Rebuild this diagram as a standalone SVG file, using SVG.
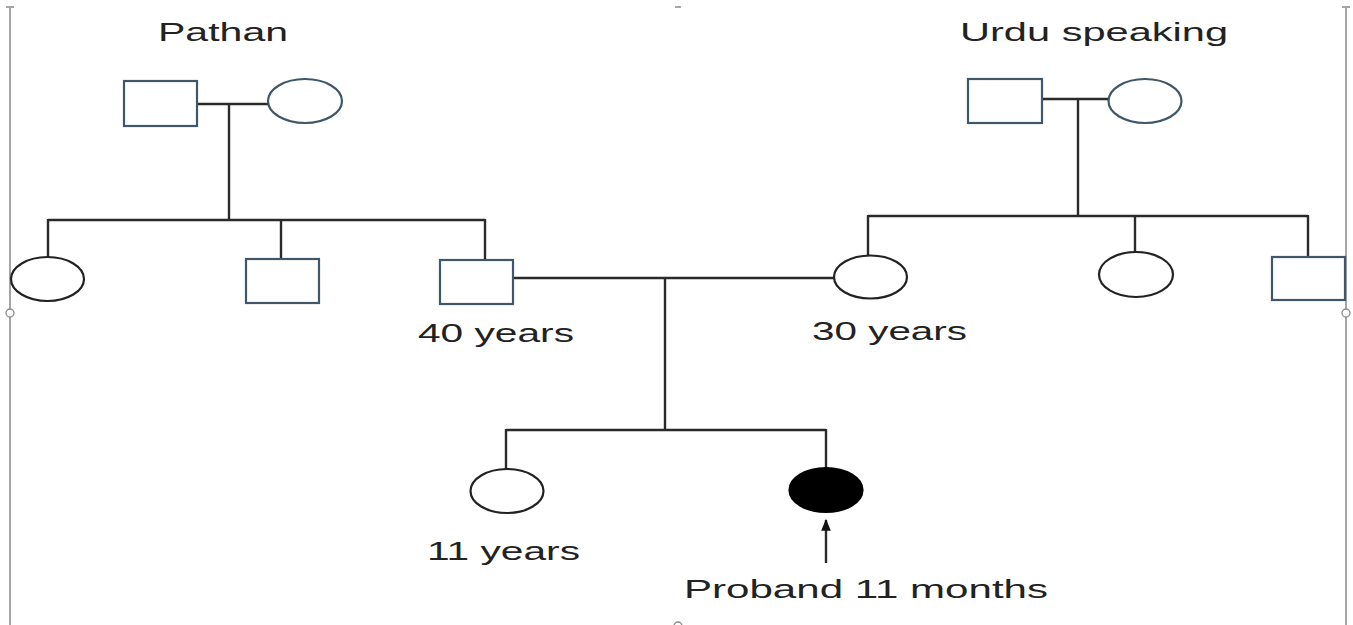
<svg xmlns="http://www.w3.org/2000/svg" width="1353" height="625" viewBox="0 0 1353 625">
<defs>
<style>
.bg{fill:#ffffff}
.frame{stroke:#a6a6a6;stroke-width:2;fill:none}
.handle{stroke:#8c8c8c;stroke-width:1.3;fill:#ffffff}
.male{fill:#ffffff;stroke:#3f576b;stroke-width:2.2}
.femb{fill:#ffffff;stroke:#3f576b;stroke-width:2.2}
.fem{fill:#ffffff;stroke:#222222;stroke-width:2.2}
.aff{fill:#000000;stroke:#000000;stroke-width:2.2}
.ln{stroke:#2a2a2a;stroke-width:2.4;fill:none}
.lbl{font-family:"Liberation Sans",Arial,sans-serif;font-size:26px;fill:#222222}
</style>
<marker id="arr" viewBox="0 0 10 10" refX="9" refY="5" markerWidth="5" markerHeight="5" orient="auto">
<path d="M0,1 L10,5 L0,9 z" fill="#111111"/>
</marker>
</defs>
<rect class="bg" x="0" y="0" width="1353" height="625"/>
<g id="frame">
<line class="frame" x1="10" y1="7" x2="10" y2="625"/>
<line class="frame" x1="1346" y1="7" x2="1346" y2="625"/>
<line class="frame" x1="6" y1="7" x2="14" y2="7"/>
<line class="frame" x1="1342" y1="7" x2="1350" y2="7"/>
<line class="frame" x1="675" y1="7" x2="681" y2="7"/>
<circle class="handle" cx="10" cy="313" r="4"/>
<circle class="handle" cx="1346" cy="313" r="4"/>
<circle class="handle" cx="678" cy="626" r="4"/>
</g>
<g id="connectors">
<line class="ln" x1="197" y1="104" x2="268" y2="104"/>
<line class="ln" x1="229" y1="104" x2="229" y2="220"/>
<line class="ln" x1="48" y1="220" x2="485" y2="220"/>
<line class="ln" x1="48" y1="219" x2="48" y2="257"/>
<line class="ln" x1="281" y1="220" x2="281" y2="259"/>
<line class="ln" x1="485" y1="219" x2="485" y2="260"/>
<line class="ln" x1="1042" y1="99" x2="1108" y2="99"/>
<line class="ln" x1="1078" y1="99" x2="1078" y2="216"/>
<line class="ln" x1="868" y1="216" x2="1308" y2="216"/>
<line class="ln" x1="868" y1="215" x2="868" y2="256"/>
<line class="ln" x1="1135" y1="216" x2="1135" y2="252"/>
<line class="ln" x1="1308" y1="215" x2="1308" y2="257"/>
<line class="ln" x1="513" y1="278" x2="834" y2="278"/>
<line class="ln" x1="665" y1="278" x2="665" y2="430"/>
<line class="ln" x1="506" y1="430" x2="826" y2="430"/>
<line class="ln" x1="506" y1="429" x2="506" y2="469"/>
<line class="ln" x1="826" y1="429" x2="826" y2="469"/>
<line class="ln" x1="826" y1="563" x2="826" y2="520" marker-end="url(#arr)"/>
</g>
<g id="pathan-father"><rect class="male" x="124" y="81" width="73" height="45"/></g>
<g id="pathan-mother"><ellipse class="femb" cx="305" cy="101" rx="37" ry="22"/></g>
<g id="urdu-father"><rect class="male" x="968" y="79" width="74" height="44"/></g>
<g id="urdu-mother"><ellipse class="femb" cx="1145" cy="101" rx="36.5" ry="22"/></g>
<g id="pathan-daughter"><ellipse class="fem" cx="47.5" cy="279" rx="36.5" ry="22"/></g>
<g id="pathan-son"><rect class="male" x="246" y="259" width="73" height="44"/></g>
<g id="father"><rect class="male" x="440" y="260" width="73" height="44"/></g>
<g id="mother"><ellipse class="fem" cx="870.5" cy="277" rx="36.5" ry="21.5"/></g>
<g id="urdu-daughter"><ellipse class="fem" cx="1136" cy="274.5" rx="37" ry="22.5"/></g>
<g id="urdu-son"><rect class="male" x="1272" y="257" width="73" height="43"/></g>
<g id="sister"><ellipse class="fem" cx="507" cy="491" rx="36.5" ry="22"/></g>
<g id="proband"><ellipse class="aff" cx="826" cy="490" rx="36.5" ry="22"/></g>
<g id="labels">
<text class="lbl" x="158" y="41" textLength="130" lengthAdjust="spacingAndGlyphs">Pathan</text>
<text class="lbl" x="960" y="41" textLength="268" lengthAdjust="spacingAndGlyphs">Urdu speaking</text>
<text class="lbl" x="418" y="342" textLength="156" lengthAdjust="spacingAndGlyphs">40 years</text>
<text class="lbl" x="812" y="340" textLength="155" lengthAdjust="spacingAndGlyphs">30 years</text>
<text class="lbl" x="427" y="560" textLength="153" lengthAdjust="spacingAndGlyphs">11 years</text>
<text class="lbl" x="684" y="598" textLength="364" lengthAdjust="spacingAndGlyphs">Proband 11 months</text>
</g>
</svg>
